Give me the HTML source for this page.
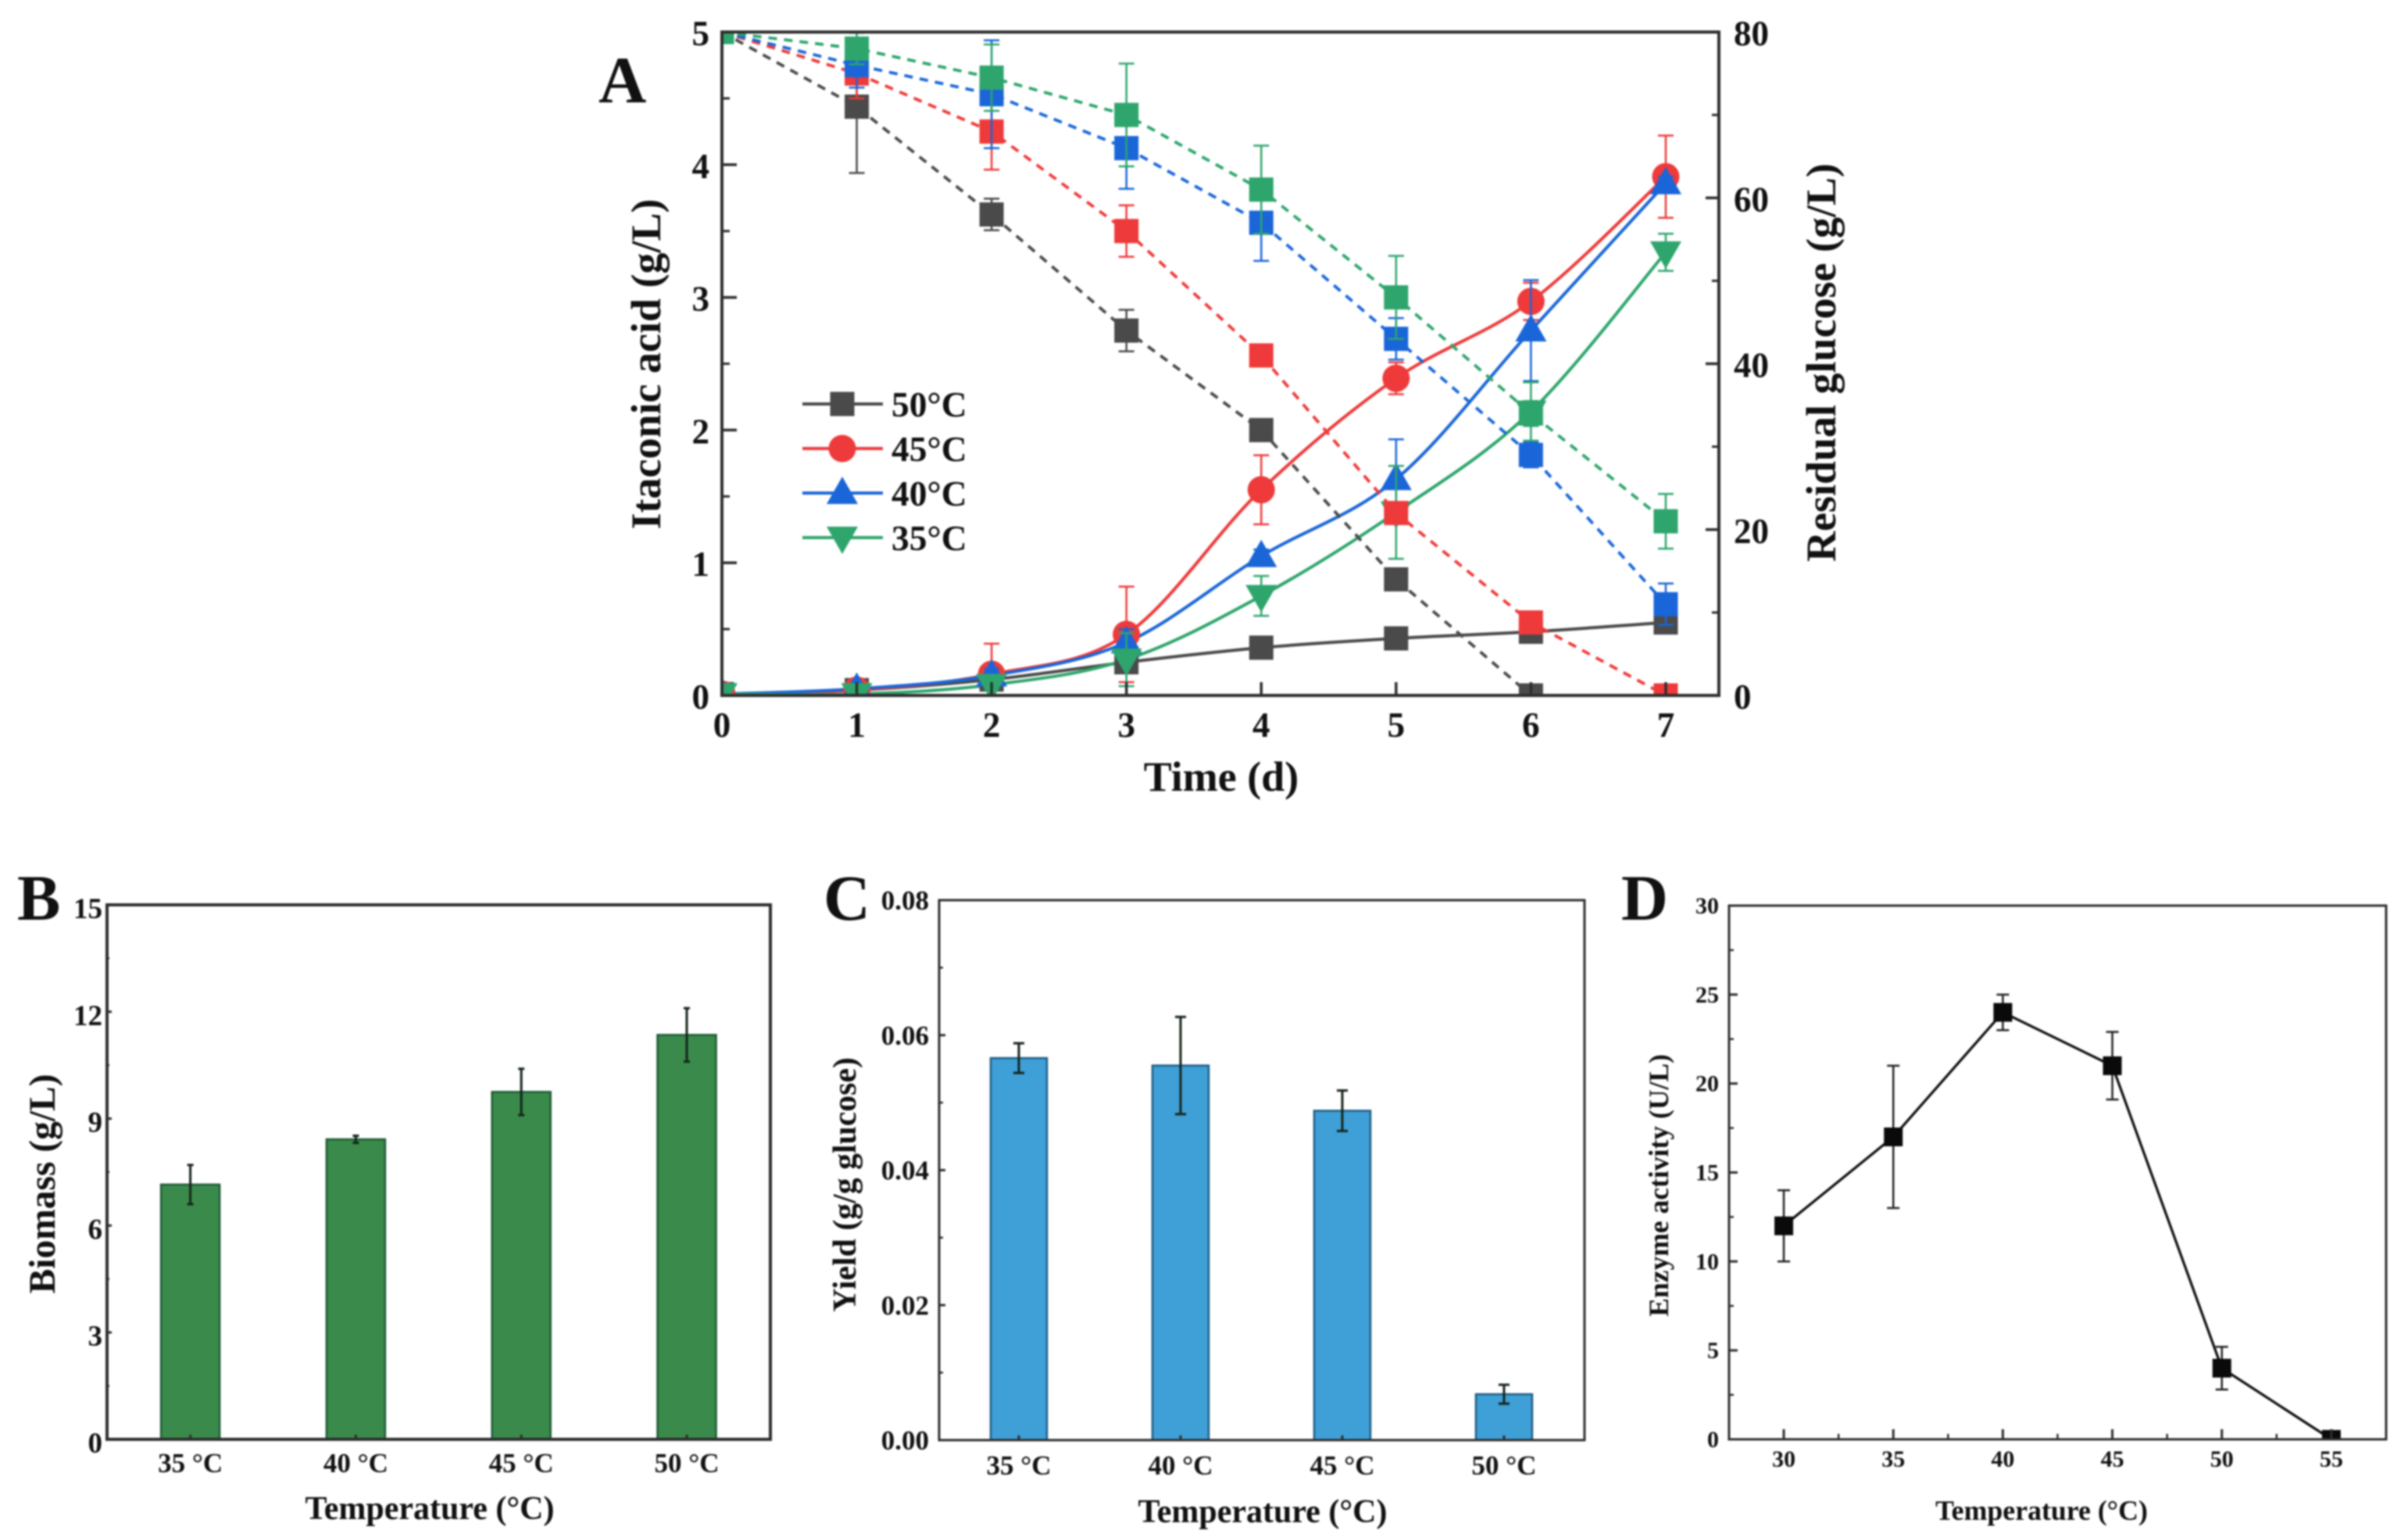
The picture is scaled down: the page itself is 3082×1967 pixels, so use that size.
<!DOCTYPE html>
<html lang="en">
<head>
<meta charset="utf-8">
<title>Itaconic acid fermentation at different temperatures</title>
<style>
html,body{margin:0;padding:0;background:#fff;}
body{width:3082px;height:1967px;overflow:hidden;}
svg{display:block;filter:blur(1px);}
text{font-family:"Liberation Serif",serif;font-weight:bold;fill:#111;}
</style>
</head>
<body>
<svg id="figure" xmlns="http://www.w3.org/2000/svg" width="3082" height="1967" viewBox="0 0 3082 1967">
  <defs>
    <clipPath id="clip-a"><rect x="924" y="41" width="1276" height="849"/></clipPath>
    <clipPath id="clip-d"><rect x="2213" y="1159" width="841" height="683"/></clipPath>
  </defs>
  <rect width="3082" height="1967" fill="#fff"/>

  <text x="766" y="131" font-size="85">A</text>
  <text x="22" y="1177" font-size="83">B</text>
  <text x="1054" y="1177" font-size="83">C</text>
  <text x="2075" y="1177" font-size="83">D</text>

  <text transform="translate(845 466) rotate(-90)" text-anchor="middle" font-size="54">Itaconic acid (g/L)</text>
  <text transform="translate(2349 464) rotate(-90)" text-anchor="middle" font-size="54">Residual glucose (g/L)</text>
  <text x="1563" y="1012" text-anchor="middle" font-size="54">Time (d)</text>

  <text transform="translate(70 1515) rotate(-90)" text-anchor="middle" font-size="47.5">Biomass (g/L)</text>
  <text x="550" y="1944" text-anchor="middle" font-size="42">Temperature (°C)</text>

  <text transform="translate(1095 1516) rotate(-90)" text-anchor="middle" font-size="41.8">Yield (g/g glucose)</text>
  <text x="1616" y="1948" text-anchor="middle" font-size="42">Temperature (°C)</text>

  <text transform="translate(2135 1517) rotate(-90)" text-anchor="middle" font-size="35.6">Enzyme activity (U/L)</text>
  <text x="2613" y="1945" text-anchor="middle" font-size="35.8">Temperature (°C)</text>

  <g id="panel-a"></g>
  <g id="panel-b"></g>
  <g id="panel-c"></g>
  <g id="panel-d"></g>
</svg>

<script>
// ---------- Panel A data ----------
const timeDays = [0, 1, 2, 3, 4, 5, 6, 7];
const seriesLabels = ['50°C', '45°C', '40°C', '35°C'];

const glucose50 = [80, 71, 58, 44, 32, 14, 0, 0];
const glucose45 = [80, 75, 68, 56, 41, 22, 8.8, 0];
const glucose40 = [80, 76, 72.5, 66, 57, 43, 29, 11];
const glucose35 = [80, 78, 74.5, 70, 61, 48, 34, 21];

const glucoseErr50 = [0, 8, 1.9, 2.5, 0, 0.8, 0, 0];
const glucoseErr45 = [0, 3, 4.6, 3.1, 0, 0, 0.8, 0];
const glucoseErr40 = [0, 2.7, 6.5, 4.9, 4.6, 2.5, 1.5, 2.5];
const glucoseErr35 = [0, 1.9, 4, 6.2, 5.3, 5, 1.5, 3.3];

const itaconic50 = [0.01, 0.04, 0.12, 0.25, 0.36, 0.43, 0.48, 0.55];
const itaconic45 = [0.01, 0.04, 0.16, 0.46, 1.55, 2.39, 2.97, 3.91];
const itaconic40 = [0.01, 0.05, 0.15, 0.40, 1.05, 1.63, 2.75, 3.86];
const itaconic35 = [0.01, 0.01, 0.08, 0.27, 0.75, 1.38, 2.14, 3.34];

const itaconicErr50 = [0, 0, 0, 0.03, 0, 0, 0, 0];
const itaconicErr45 = [0, 0.02, 0.23, 0.36, 0.26, 0.12, 0.14, 0.31];
const itaconicErr40 = [0, 0.02, 0.05, 0.10, 0.05, 0.30, 0.38, 0.05];
const itaconicErr35 = [0, 0, 0.03, 0.20, 0.15, 0.35, 0.22, 0.14];

const aLeftTicks = [0, 1, 2, 3, 4, 5];
const aLeftMinor = [0.5, 1.5, 2.5, 3.5, 4.5];
const aRightTicks = [0, 20, 40, 60, 80];
const aRightMinor = [10, 30, 50, 70];

// ---------- Panel B data ----------
const biomassCategories = ['35 °C', '40 °C', '45 °C', '50 °C'];
const biomassValues = [7.15, 8.42, 9.75, 11.35];
const biomassErrors = [0.55, 0.1, 0.65, 0.75];
const biomassTicks = [0, 3, 6, 9, 12, 15];
const biomassMinor = [1.5, 4.5, 7.5, 10.5, 13.5];

// ---------- Panel C data ----------
const yieldCategories = ['35 °C', '40 °C', '45 °C', '50 °C'];
const yieldValues = [0.0566, 0.0555, 0.0488, 0.0068];
const yieldErrors = [0.0022, 0.0072, 0.003, 0.0014];
const yieldTicks = [0, 0.02, 0.04, 0.06, 0.08];
const yieldTickLabels = ['0.00', '0.02', '0.04', '0.06', '0.08'];
const yieldMinor = [0.01, 0.03, 0.05, 0.07];

// ---------- Panel D data ----------
const enzymeTemps = [30, 35, 40, 45, 50, 55];
const enzymeValues = [12, 17, 24, 21, 4, 0];
const enzymeErrors = [2, 4, 1, 1.9, 1.2, 0];
const enzymeYTicks = [0, 5, 10, 15, 20, 25, 30];
const enzymeYMinor = [2.5, 7.5, 12.5, 17.5, 22.5, 27.5];
const enzymeXMinor = [32.5, 37.5, 42.5, 47.5, 52.5];

// ---------- Helpers ----------
const NS = 'http://www.w3.org/2000/svg';
function make(tag, attrs, parent) {
  const el = document.createElementNS(NS, tag);
  for (const k in attrs) el.setAttribute(k, attrs[k]);
  parent.appendChild(el);
  return el;
}
function linear(d0, d1, r0, r1) {
  return v => r0 + (v - d0) * (r1 - r0) / (d1 - d0);
}
function seg(parent, x1, y1, x2, y2, stroke, width, name) {
  const el = make('line', {x1, y1, x2, y2, stroke, 'stroke-width': width}, parent);
  
  
  return el;
}
function label(parent, x, y, txt, size, anchor, name) {
  const el = make('text', {x, y, 'font-size': size, 'text-anchor': anchor}, parent);
  el.textContent = txt;
  
  
  return el;
}
function frame(parent, x, y, w, h, sw, name) {
  const el = make('rect', {x, y, width: w, height: h, fill: 'none', stroke: '#2e2e2e', 'stroke-width': sw}, parent);
  
  
  return el;
}
function marker(parent, kind, cx, cy, color, name) {
  let el;
  if (kind === 'square') el = make('rect', {x: cx - 15.5, y: cy - 15.5, width: 31, height: 31, fill: color}, parent);
  if (kind === 'circle') el = make('circle', {cx, cy, r: 17.5, fill: color}, parent);
  if (kind === 'up') el = make('polygon', {points: `${cx},${cy - 21} ${cx + 20},${cy + 14} ${cx - 20},${cy + 14}`, fill: color}, parent);
  if (kind === 'down') el = make('polygon', {points: `${cx},${cy + 21} ${cx + 20},${cy - 14} ${cx - 20},${cy - 14}`, fill: color}, parent);
  
  
  return el;
}
function errorBar(parent, x, yTop, yBottom, capHalf, color, width, name) {
  const g = make('g', {stroke: color, 'stroke-width': width}, parent);
  
  
  make('line', {x1: x, x2: x, y1: yTop, y2: yBottom}, g);
  make('line', {x1: x - capHalf, x2: x + capHalf, y1: yTop, y2: yTop}, g);
  make('line', {x1: x - capHalf, x2: x + capHalf, y1: yBottom, y2: yBottom}, g);
  return g;
}
function splinePath(pts) {
  let d = `M${pts[0][0]},${pts[0][1]}`;
  for (let i = 0; i < pts.length - 1; i++) {
    const p0 = pts[Math.max(i - 1, 0)], p1 = pts[i], p2 = pts[i + 1], p3 = pts[Math.min(i + 2, pts.length - 1)];
    const c1x = p1[0] + (p2[0] - p0[0]) / 6, c1y = p1[1] + (p2[1] - p0[1]) / 6;
    const c2x = p2[0] - (p3[0] - p1[0]) / 6, c2y = p2[1] - (p3[1] - p1[1]) / 6;
    d += ` C${c1x},${c1y} ${c2x},${c2y} ${p2[0]},${p2[1]}`;
  }
  return d;
}

// ---------- Panel A ----------
(function () {
  const root = document.getElementById('panel-a');
  const xA = linear(0, 7, 924, 2132);
  const yLeft = linear(0, 5, 890, 41);
  const yRight = linear(0, 80, 890, 41);

  const colors = ['#4a4a4a', '#ee3a3a', '#1a66d8', '#2ea56c'];
  const markers = ['square', 'circle', 'up', 'down'];
  const keys = ['50c', '45c', '40c', '35c'];
  const glucose = [glucose50, glucose45, glucose40, glucose35];
  const glucoseErr = [glucoseErr50, glucoseErr45, glucoseErr40, glucoseErr35];
  const itaconic = [itaconic50, itaconic45, itaconic40, itaconic35];
  const itaconicErr = [itaconicErr50, itaconicErr45, itaconicErr40, itaconicErr35];

  const plot = make('g', {'clip-path': 'url(#clip-a)'}, root);
  
  

  // Itaconic acid curves sit underneath the glucose layer, as in the reference.
  keys.forEach((key, s) => {
    const pts = timeDays.map((t, i) => [xA(t), yLeft(itaconic[s][i])]);
    const line = make('path', {d: splinePath(pts), fill: 'none', stroke: colors[s], 'stroke-width': 4}, plot);
    
    
  });
  keys.forEach((key, s) => {
    timeDays.forEach((t, i) => {
      marker(plot, markers[s], xA(t), yLeft(itaconic[s][i]), colors[s], `itaconic-point-${key}-day-${t}`);
      if (itaconicErr[s][i] > 0) {
        errorBar(plot, xA(t), yLeft(itaconic[s][i] + itaconicErr[s][i]), yLeft(itaconic[s][i] - itaconicErr[s][i]), 10, colors[s], 2.5, `itaconic-error-${key}-day-${t}`);
      }
    });
  });

  keys.forEach((key, s) => {
    const pts = timeDays.map((t, i) => [xA(t), yRight(glucose[s][i])]);
    const line = make('polyline', {points: pts.map(p => p.join(',')).join(' '), fill: 'none', stroke: colors[s], 'stroke-width': 3.8, 'stroke-dasharray': '11 9'}, plot);
    
    
  });
  keys.forEach((key, s) => {
    timeDays.forEach((t, i) => {
      marker(plot, 'square', xA(t), yRight(glucose[s][i]), colors[s], `glucose-point-${key}-day-${t}`);
      if (glucoseErr[s][i] > 0) {
        errorBar(plot, xA(t), yRight(glucose[s][i] + glucoseErr[s][i]), yRight(glucose[s][i] - glucoseErr[s][i]), 10, colors[s], 2.5, `glucose-error-${key}-day-${t}`);
      }
    });
  });

  frame(root, 924, 41, 1276, 849, 4, 'a-plot-frame');

  aLeftTicks.forEach(v => {
    seg(root, 924, yLeft(v), 943, yLeft(v), '#2e2e2e', 3.5, `a-left-tick-${v}`);
    label(root, 908, yLeft(v) + 17, String(v), 45, 'end', `a-left-tick-label-${v}`);
  });
  aLeftMinor.forEach(v => seg(root, 924, yLeft(v), 934, yLeft(v), '#2e2e2e', 3, `a-left-minor-tick-${v}`));
  aRightTicks.forEach(v => {
    seg(root, 2183, yRight(v), 2200, yRight(v), '#2e2e2e', 3.5, `a-right-tick-${v}`);
    label(root, 2219, yRight(v) + 17, String(v), 45, 'start', `a-right-tick-label-${v}`);
  });
  aRightMinor.forEach(v => seg(root, 2191, yRight(v), 2200, yRight(v), '#2e2e2e', 3, `a-right-minor-tick-${v}`));
  timeDays.forEach(t => {
    seg(root, xA(t), 873, xA(t), 890, '#2e2e2e', 3.5, `a-x-tick-${t}`);
    label(root, xA(t), 943, String(t), 45, 'middle', `a-x-tick-label-${t}`);
  });

  const legend = make('g', {}, root);
  
  
  seriesLabels.forEach((txt, s) => {
    const ly = 517 + s * 57;
    seg(legend, 1027, ly, 1130, ly, colors[s], 4, `legend-line-${keys[s]}`);
    marker(legend, markers[s], 1078, ly, colors[s], `legend-marker-${keys[s]}`);
    label(legend, 1141, ly + 16, txt, 45.5, 'start', `legend-label-${keys[s]}`);
  });
})();

// ---------- Bar panels ----------
function barPanel(rootId, prefix, box, cats, centerX, values, errors, ymax, ticks, tickLabels, minor, fill, edge, barW, cfg) {
  const root = document.getElementById(rootId);
  const y = linear(0, ymax, box.y + box.h, box.y);
  cats.forEach((c, i) => {
    const cx = centerX(i);
    const bar = make('rect', {x: cx - barW / 2, y: y(values[i]), width: barW, height: y(0) - y(values[i]), fill, stroke: edge, 'stroke-width': 2.5}, root);
    
    
    errorBar(root, cx, y(values[i] + errors[i]), y(values[i] - errors[i]), cfg.cap, '#14251a', 3, `${prefix}-error-${c.replace(' °C', 'c')}`);
    seg(root, cx, box.y + box.h - 6, cx, box.y + box.h, '#2e2e2e', 3, `${prefix}-x-tick-${i}`);
    label(root, cx, cfg.xLabelY, c, 35, 'middle', `${prefix}-x-tick-label-${i}`);
  });
  frame(root, box.x, box.y, box.w, box.h, cfg.frame, `${prefix}-plot-frame`);
  ticks.forEach((v, i) => {
    seg(root, box.x, y(v), box.x + cfg.major, y(v), '#2e2e2e', 3, `${prefix}-y-tick-${i}`);
    label(root, cfg.labelX, y(v) + cfg.dy, tickLabels[i], cfg.size, 'end', `${prefix}-y-tick-label-${i}`);
  });
  minor.forEach((v, i) => seg(root, box.x, y(v), box.x + cfg.minor, y(v), '#2e2e2e', 2.5, `${prefix}-y-minor-tick-${i}`));
}

barPanel('panel-b', 'b', {x: 137, y: 1158, w: 849, h: 684}, biomassCategories,
  linear(0, 3, 243.6, 879), biomassValues, biomassErrors, 15,
  biomassTicks, biomassTicks.map(String), biomassMinor, '#3a8a4c', '#1d5a34', 75,
  {cap: 4, xLabelY: 1884, frame: 4, major: 6, minor: 3, labelX: 131, dy: 17, size: 37});

barPanel('panel-c', 'c', {x: 1202, y: 1152, w: 826, h: 691}, yieldCategories,
  linear(0, 3, 1304, 1925), yieldValues, yieldErrors, 0.08,
  yieldTicks, yieldTickLabels, yieldMinor, '#3f9fd7', '#1d5d83', 72,
  {cap: 7, xLabelY: 1887, frame: 3, major: 8, minor: 5, labelX: 1189, dy: 12, size: 35});

// ---------- Panel D ----------
(function () {
  const root = document.getElementById('panel-d');
  const xD = linear(27.5, 57.5, 2213, 3054);
  const yD = linear(0, 30, 1842, 1159);

  const plot = make('g', {'clip-path': 'url(#clip-d)'}, root);
  
  

  const pts = enzymeTemps.map((t, i) => `${xD(t)},${yD(enzymeValues[i])}`).join(' ');
  const line = make('polyline', {points: pts, fill: 'none', stroke: '#0d0d0d', 'stroke-width': 3.2}, plot);
  
  

  enzymeTemps.forEach((t, i) => {
    if (enzymeErrors[i] > 0) {
      errorBar(plot, xD(t), yD(enzymeValues[i] + enzymeErrors[i]), yD(enzymeValues[i] - enzymeErrors[i]), 8, '#222', 2.5, `enzyme-error-${t}`);
    }
    const m = make('rect', {x: xD(t) - 12, y: yD(enzymeValues[i]) - 12, width: 24, height: 24, fill: '#0a0a0a'}, plot);
    
    
  });

  frame(root, 2213, 1159, 841, 683, 3, 'd-plot-frame');

  enzymeYTicks.forEach(v => {
    seg(root, 2213, yD(v), 2224, yD(v), '#2e2e2e', 3, `d-y-tick-${v}`);
    label(root, 2200, yD(v) + 10, String(v), 30, 'end', `d-y-tick-label-${v}`);
  });
  enzymeYMinor.forEach(v => seg(root, 2213, yD(v), 2219, yD(v), '#2e2e2e', 2.5, `d-y-minor-tick-${v}`));
  enzymeTemps.forEach(t => {
    seg(root, xD(t), 1829, xD(t), 1842, '#2e2e2e', 3, `d-x-tick-${t}`);
    label(root, xD(t), 1877, String(t), 30, 'middle', `d-x-tick-label-${t}`);
  });
  enzymeXMinor.forEach(t => seg(root, xD(t), 1835, xD(t), 1842, '#2e2e2e', 2.5, `d-x-minor-tick-${t}`));
})();
</script>
</body>
</html>
